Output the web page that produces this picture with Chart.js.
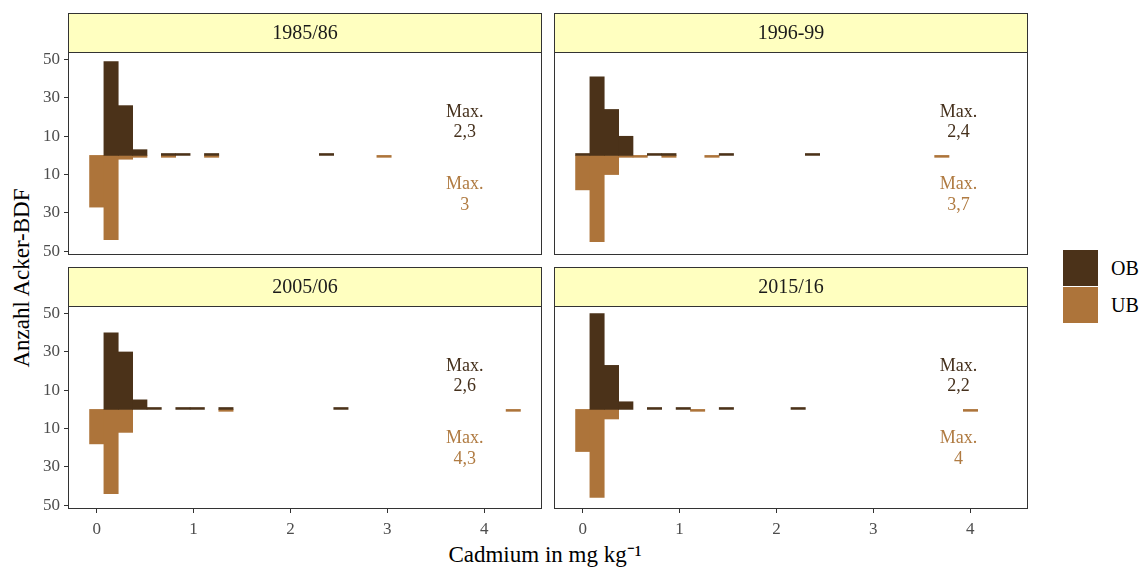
<!DOCTYPE html>
<html>
<head>
<meta charset="utf-8">
<script src="https://cdn.jsdelivr.net/npm/chart.js@4.4.1/dist/chart.umd.min.js"></script>
<style>
  html, body { margin: 0; padding: 0; background: #fff; }
  body { width: 1142px; height: 570px; position: relative; overflow: hidden;
         font-family: "Liberation Serif", "Times New Roman", serif; }
  canvas { position: absolute; }
  .ytitle { position: absolute; left: 22px; top: 278px; transform: translate(-50%, -50%) rotate(-90deg);
            font-size: 23px; color: #000; white-space: nowrap; }
  .xtitle { position: absolute; left: 545px; top: 553px; transform: translate(-50%, -50%);
            font-size: 23px; color: #000; white-space: nowrap; }
  .key { position: absolute; left: 1063px; width: 35px; height: 36px; }
  .keylab { position: absolute; left: 1111px; font-size: 20px; color: #000; transform: translateY(-50%); }
</style>
</head>
<body>
<div class="ytitle">Anzahl Acker-BDF</div>
<div class="xtitle">Cadmium in mg kg⁻¹</div>
<div class="key" id="keyOB" style="top:250px"></div>
<div class="key" id="keyUB" style="top:287px"></div>
<div class="keylab" id="labOB" style="top:268px"></div>
<div class="keylab" id="labUB" style="top:305px"></div>

<script>
// ---- data -------------------------------------------------------------
const periods = ["1985/86", "1996-99", "2005/06", "2015/16"];
const seriesNames = ["OB", "UB"];

// histogram bin centres (mg/kg), 30 bins
const binCenters = [0.000, 0.148, 0.297, 0.445, 0.593, 0.741, 0.890, 1.038, 1.186, 1.334,
                    1.483, 1.631, 1.779, 1.928, 2.076, 2.224, 2.372, 2.521, 2.669, 2.817,
                    2.966, 3.114, 3.262, 3.410, 3.559, 3.707, 3.855, 4.003, 4.152, 4.300];

// number of sites per bin, topsoil (OB)
const ob8586 = [0, 49, 26, 3, 0, 1, 1, 0, 1, 0, 0, 0, 0, 0, 0, 0, 1, 0, 0, 0, 0, 0, 0, 0, 0, 0, 0, 0, 0, 0];
const ob9699 = [1, 41, 24, 10, 0, 1, 1, 0, 0, 0, 1, 0, 0, 0, 0, 0, 1, 0, 0, 0, 0, 0, 0, 0, 0, 0, 0, 0, 0, 0];
const ob0506 = [0, 40, 30, 5, 1, 0, 1, 1, 0, 1, 0, 0, 0, 0, 0, 0, 0, 1, 0, 0, 0, 0, 0, 0, 0, 0, 0, 0, 0, 0];
const ob1516 = [0, 50, 23, 4, 0, 1, 0, 1, 0, 0, 1, 0, 0, 0, 0, 1, 0, 0, 0, 0, 0, 0, 0, 0, 0, 0, 0, 0, 0, 0];

// number of sites per bin, subsoil (UB)
const ub8586 = [27, 44, 2, 1, 0, 1, 0, 0, 1, 0, 0, 0, 0, 0, 0, 0, 0, 0, 0, 0, 1, 0, 0, 0, 0, 0, 0, 0, 0, 0];
const ub9699 = [18, 45, 10, 1, 1, 0, 1, 0, 0, 1, 0, 0, 0, 0, 0, 0, 0, 0, 0, 0, 0, 0, 0, 0, 0, 1, 0, 0, 0, 0];
const ub0506 = [18, 44, 12, 0, 0, 0, 0, 0, 0, 1, 0, 0, 0, 0, 0, 0, 0, 0, 0, 0, 0, 0, 0, 0, 0, 0, 0, 0, 0, 1];
const ub1516 = [22, 46, 5, 0, 0, 0, 0, 0, 1, 0, 0, 0, 0, 0, 0, 0, 0, 0, 0, 0, 0, 0, 0, 0, 0, 0, 0, 1, 0, 0];

// maximum concentrations per period
const maxOB = ["2,3", "2,4", "2,6", "2,2"];
const maxUB = ["3", "3,7", "4,3", "4"];

// axis ticks
const xTicks = [0, 1, 2, 3, 4];
const yTicks = [-50, -30, -10, 10, 30, 50];

// ---- styling ------------------------------------------------------------
const COL_OB = "#4B3219";
const COL_UB = "#AD743A";
const TXT_OB = "#45301c";
const TXT_UB = "#B07B42";
const STRIP_FILL = "#FFFFC0";
const FRAME = "#333333";
const FONT = '"Liberation Serif", "Times New Roman", serif';
const STRIP_H = 39;
const PANEL_W = 474, PANEL_H = 203;
const PAD_L = 50, PAD_T = 45, PAD_R = 6, PAD_B = 40;

document.getElementById("keyOB").style.background = COL_OB;
document.getElementById("keyUB").style.background = COL_UB;
document.getElementById("labOB").textContent = seriesNames[0];
document.getElementById("labUB").textContent = seriesNames[1];

// x range: bin extent plus 5 % padding on both sides
const binW = (binCenters[binCenters.length - 1] - binCenters[0]) / (binCenters.length - 1);
const xLo = binCenters[0] - binW / 2, xHi = binCenters[binCenters.length - 1] + binW / 2;
const X_MIN = xLo - 0.05 * (xHi - xLo), X_MAX = xHi + 0.05 * (xHi - xLo);
const Y_MIN = -52, Y_MAX = 54;

const panels = [
  { i: 0, ob: ob8586, ub: ub8586, left: 68,  top: 52,  showY: true,  showX: false, labelX: 3.80 },
  { i: 1, ob: ob9699, ub: ub9699, left: 554, top: 52,  showY: false, showX: false, labelX: 3.88 },
  { i: 2, ob: ob0506, ub: ub0506, left: 68,  top: 306, showY: true,  showX: true,  labelX: 3.80 },
  { i: 3, ob: ob1516, ub: ub1516, left: 554, top: 306, showY: false, showX: true,  labelX: 3.88 }
];

// strip header, panel frame and the "Max." notes
const decor = {
  id: "decor",
  afterDraw(chart, args, o) {
    const { ctx, chartArea: a, scales: { x, y } } = chart;
    ctx.save();
    ctx.fillStyle = STRIP_FILL;
    ctx.fillRect(a.left, a.top - STRIP_H, a.right - a.left, STRIP_H);
    ctx.strokeStyle = FRAME;
    ctx.lineWidth = 1;
    ctx.strokeRect(a.left + 0.5, a.top - STRIP_H + 0.5, a.right - a.left - 1, STRIP_H);
    ctx.strokeRect(a.left + 0.5, a.top + 0.5, a.right - a.left - 1, a.bottom - a.top - 1);

    ctx.fillStyle = "#1a1a1a";
    ctx.font = "20px " + FONT;
    ctx.textAlign = "center";
    ctx.textBaseline = "middle";
    ctx.fillText(o.title, (a.left + a.right) / 2, a.top - STRIP_H / 2 + 1);

    ctx.font = "18px " + FONT;
    const px = x.getPixelForValue(o.labelX);
    ctx.fillStyle = TXT_OB;
    ctx.fillText("Max.", px, y.getPixelForValue(22.7));
    ctx.fillText(o.maxOB, px, y.getPixelForValue(12.2));
    ctx.fillStyle = TXT_UB;
    ctx.fillText("Max.", px, y.getPixelForValue(-14.9));
    ctx.fillText(o.maxUB, px, y.getPixelForValue(-25.8));
    ctx.restore();
  }
};

function points(counts, sign) {
  const out = [];
  counts.forEach((c, k) => { if (c > 0) out.push({ x: binCenters[k], y: sign * c }); });
  return out;
}

panels.forEach(p => {
  const cv = document.createElement("canvas");
  const W = PAD_L + PANEL_W + PAD_R, H = PAD_T + PANEL_H + PAD_B;
  cv.width = W; cv.height = H;
  cv.style.width = W + "px"; cv.style.height = H + "px";
  cv.style.left = (p.left - PAD_L) + "px";
  cv.style.top = (p.top - PAD_T) + "px";
  document.body.appendChild(cv);

  new Chart(cv, {
    type: "bar",
    data: {
      datasets: [
        { label: seriesNames[0], data: points(p.ob, 1),  backgroundColor: COL_OB },
        { label: seriesNames[1], data: points(p.ub, -1), backgroundColor: COL_UB }
      ]
    },
    options: {
      responsive: false,
      animation: false,
      devicePixelRatio: 1,
      layout: { padding: { left: p.showY ? 0 : PAD_L, top: PAD_T, right: PAD_R, bottom: p.showX ? 0 : PAD_B } },
      datasets: { bar: { grouped: false, barPercentage: 1, categoryPercentage: 1, borderWidth: 0 } },
      plugins: {
        legend: { display: false },
        tooltip: { enabled: false },
        decor: { title: periods[p.i], maxOB: maxOB[p.i], maxUB: maxUB[p.i], labelX: p.labelX }
      },
      scales: {
        x: {
          type: "linear",
          display: p.showX,
          offset: false,
          min: X_MIN, max: X_MAX,
          afterBuildTicks: s => { s.ticks = xTicks.map(v => ({ value: v })); },
          afterFit: s => { if (p.showX) s.height = PAD_B; },
          border: { display: false },
          grid: { offset: false, drawOnChartArea: false, drawTicks: true, tickLength: 4, color: FRAME, lineWidth: 1 },
          ticks: { color: "#4D4D4D", font: { family: FONT, size: 17 }, padding: 6, maxRotation: 0,
                   callback: v => String(v) }
        },
        y: {
          display: p.showY,
          min: Y_MIN, max: Y_MAX,
          afterBuildTicks: s => { s.ticks = yTicks.map(v => ({ value: v })); },
          afterFit: s => { if (p.showY) s.width = PAD_L; },
          border: { display: false },
          grid: { drawOnChartArea: false, drawTicks: true, tickLength: 4, color: FRAME, lineWidth: 1 },
          ticks: { color: "#4D4D4D", font: { family: FONT, size: 17 }, padding: 4,
                   callback: v => String(Math.abs(v)) }
        }
      }
    },
    plugins: [decor]
  });
});
</script>
</body>
</html>
